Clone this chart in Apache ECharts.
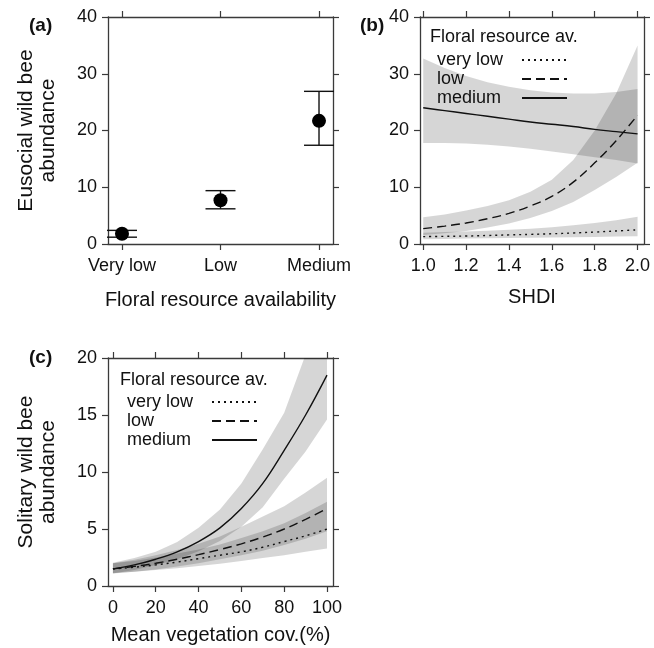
<!DOCTYPE html>
<html>
<head>
<meta charset="utf-8">
<script src="https://cdn.jsdelivr.net/npm/echarts@6/dist/echarts.min.js"></script>
<style>
  html, body { margin: 0; padding: 0; background: #fff; }
  #chart { width: 654px; height: 648px; }
</style>
</head>
<body>
<div id="chart"></div>
<script>
// ---------- Panel (a) ----------
const aCategories = ['Very low', 'Low', 'Medium'];
const aX = [1, 2, 3];
const aMean = [1.8, 7.7, 21.7];
const aLower = [1.2, 6.2, 17.4];
const aUpper = [2.4, 9.4, 26.9];
const aTicks = [1, 2, 3];

// ---------- Panel (b) ----------
const bX = [1.0, 1.1, 1.2, 1.3, 1.4, 1.5, 1.6, 1.7, 1.8, 1.9, 2.0];
const bVeryLow = [1.3, 1.35, 1.4, 1.5, 1.6, 1.7, 1.8, 1.95, 2.1, 2.3, 2.5];
const bVeryLowLo = [0.85, 0.9, 0.95, 1.0, 1.05, 1.1, 1.15, 1.2, 1.25, 1.3, 1.35];
const bVeryLowHi = [2.0, 2.1, 2.2, 2.35, 2.5, 2.7, 2.95, 3.3, 3.7, 4.2, 4.8];
const bLow = [2.7, 3.15, 3.7, 4.45, 5.4, 6.7, 8.4, 10.9, 14.3, 18.2, 22.7];
const bLowLo = [1.6, 1.9, 2.3, 2.9, 3.6, 4.6, 5.8, 7.4, 9.5, 11.8, 14.3];
const bLowHi = [4.7, 5.2, 5.9, 6.7, 7.7, 9.2, 11.3, 14.8, 20.0, 26.5, 35.0];
const bMedium = [24.0, 23.5, 23.0, 22.5, 22.0, 21.5, 21.1, 20.7, 20.2, 19.8, 19.4];
const bMediumLo = [17.8, 17.8, 17.7, 17.5, 17.2, 16.8, 16.3, 15.8, 15.3, 14.8, 14.2];
const bMediumHi = [32.7, 31.0, 29.6, 28.5, 27.7, 27.1, 26.7, 26.5, 26.5, 26.8, 27.3];
const bTicks = [1.0, 1.2, 1.4, 1.6, 1.8, 2.0];

// ---------- Panel (c) ----------
const cX = [0, 10, 20, 30, 40, 50, 60, 70, 80, 90, 100];
const cVeryLow = [1.5, 1.65, 1.85, 2.1, 2.4, 2.7, 3.0, 3.4, 3.9, 4.4, 5.0];
const cVeryLowLo = [1.15, 1.25, 1.4, 1.55, 1.75, 1.95, 2.2, 2.45, 2.7, 3.0, 3.3];
const cVeryLowHi = [2.0, 2.2, 2.5, 2.85, 3.2, 3.65, 4.2, 4.8, 5.5, 6.4, 7.4];
const cLow = [1.5, 1.72, 2.0, 2.35, 2.75, 3.2, 3.7, 4.3, 5.0, 5.85, 6.8];
const cLowLo = [1.1, 1.25, 1.45, 1.7, 2.0, 2.35, 2.7, 3.1, 3.6, 4.15, 4.8];
const cLowHi = [2.0, 2.3, 2.7, 3.15, 3.7, 4.35, 5.2, 6.1, 7.0, 8.2, 9.5];
const cMedium = [1.5, 1.85, 2.35, 3.0, 3.9, 5.1, 6.8, 9.0, 11.9, 15.0, 18.5];
const cMediumLo = [1.1, 1.4, 1.85, 2.35, 3.05, 3.95, 5.2, 6.9, 9.4, 11.8, 14.6];
const cMediumHi = [2.05, 2.45, 3.0, 3.85, 5.1, 6.7, 9.0, 12.0, 15.2, 20.3, 24.0];
const cTicks = [0, 20, 40, 60, 80, 100];

const levelNames = ['very low', 'low', 'medium'];

// ---------- styling ----------
const FONT = "'Liberation Sans', Arial, sans-serif";
const AX = '#3a3a3a';
const TXT = '#111';
const BAND = 'rgba(0,0,0,0.16)';
const LINE_TYPES = { 'very low': [2, 4], 'low': [9, 5], 'medium': 'solid' };

const chart = echarts.init(document.getElementById('chart'), null, { renderer: 'canvas' });

function xAxisPair(grid, min, max, ticks, fmt, name, nameGap) {
  const base = {
    gridIndex: grid, type: 'value', min: min, max: max,
    axisLine: { show: true, onZero: false, lineStyle: { color: AX, width: 1.3 } },
    axisTick: { show: true, inside: false, length: 6, customValues: ticks, lineStyle: { color: AX, width: 1.2 } },
    splitLine: { show: false }
  };
  return [
    Object.assign({}, base, {
      position: 'bottom',
      axisLabel: { show: true, customValues: ticks, formatter: fmt, margin: 13, fontSize: 18, color: TXT, fontFamily: FONT },
      name: name, nameLocation: 'middle', nameGap: nameGap,
      nameTextStyle: { fontSize: 20, color: TXT, fontFamily: FONT }
    }),
    Object.assign({}, base, { position: 'top', axisLabel: { show: false } })
  ];
}

function yAxisPair(grid, min, max, interval, name, nameGap) {
  const base = {
    gridIndex: grid, type: 'value', min: min, max: max, interval: interval,
    axisLine: { show: true, onZero: false, lineStyle: { color: AX, width: 1.3 } },
    axisTick: { show: true, inside: false, length: 6, lineStyle: { color: AX, width: 1.2 } },
    splitLine: { show: false }
  };
  const left = Object.assign({}, base, {
    position: 'left',
    axisLabel: { show: true, margin: 11, fontSize: 18, color: TXT, fontFamily: FONT }
  });
  if (name) {
    Object.assign(left, {
      name: name, nameLocation: 'middle', nameGap: nameGap, nameRotate: 90,
      nameTextStyle: { fontSize: 21, color: TXT, fontFamily: FONT, lineHeight: 22 }
    });
  }
  return [left, Object.assign({}, base, { position: 'right', axisLabel: { show: false } })];
}

const xAxes = [].concat(
  xAxisPair(0, 0.858, 3.142, aTicks, v => aCategories[aTicks.indexOf(Math.round(v))] || '', 'Floral resource availability', 46),
  xAxisPair(1, 0.985, 2.03, bTicks, v => v.toFixed(1), 'SHDI', 43),
  xAxisPair(2, -2.3, 102.8, cTicks, v => String(v), 'Mean vegetation cov.(%)', 39)
);
const yAxes = [].concat(
  yAxisPair(0, 0, 40, 10, 'Eusocial wild bee\nabundance', 49),
  yAxisPair(1, 0, 40, 10, null, 0),
  yAxisPair(2, 0, 20, 5, 'Solitary wild bee\nabundance', 49)
);

function bandSeries(axisPair, xs, lo, hi) {
  return {
    type: 'custom', xAxisIndex: axisPair, yAxisIndex: axisPair, clip: true, silent: true, z: 1,
    data: xs.map((x, i) => [x, lo[i], hi[i]]),
    encode: { x: 0, y: [1, 2] },
    renderItem: function (params, api) {
      if (params.dataIndex !== 0) return null;
      const pts = [];
      for (let i = 0; i < xs.length; i++) pts.push(api.coord([xs[i], hi[i]]));
      for (let i = xs.length - 1; i >= 0; i--) pts.push(api.coord([xs[i], lo[i]]));
      return { type: 'polygon', shape: { points: pts }, style: { fill: BAND, stroke: null } };
    }
  };
}

function lineSeries(axisPair, name, xs, ys) {
  return {
    type: 'line', name: name, xAxisIndex: axisPair, yAxisIndex: axisPair,
    data: xs.map((x, i) => [x, ys[i]]), smooth: 0.4, symbol: 'none', z: 3, clip: true,
    lineStyle: { color: '#111', width: 1.4, type: LINE_TYPES[name] },
    itemStyle: { color: '#111' }
  };
}

const series = [
  // panel a: error bars
  {
    type: 'custom', xAxisIndex: 0, yAxisIndex: 0, z: 2,
    data: aX.map((x, i) => [x, aLower[i], aUpper[i]]),
    encode: { x: 0, y: [1, 2] },
    renderItem: function (params, api) {
      const x = api.value(0);
      const top = api.coord([x, api.value(2)]);
      const bot = api.coord([x, api.value(1)]);
      const hw = 15;
      const st = { stroke: '#111', lineWidth: 1.4 };
      return {
        type: 'group', children: [
          { type: 'line', shape: { x1: top[0], y1: top[1], x2: bot[0], y2: bot[1] }, style: st },
          { type: 'line', shape: { x1: top[0] - hw, y1: top[1], x2: top[0] + hw, y2: top[1] }, style: st },
          { type: 'line', shape: { x1: bot[0] - hw, y1: bot[1], x2: bot[0] + hw, y2: bot[1] }, style: st }
        ]
      };
    }
  },
  {
    type: 'scatter', xAxisIndex: 0, yAxisIndex: 0, z: 3,
    data: aX.map((x, i) => [x, aMean[i]]), symbol: 'circle', symbolSize: 14,
    itemStyle: { color: '#000', opacity: 1 }
  },
  // panel b (axis indices 2 = bottom x / left y of grid 1)
  bandSeries(2, bX, bVeryLowLo, bVeryLowHi),
  bandSeries(2, bX, bLowLo, bLowHi),
  bandSeries(2, bX, bMediumLo, bMediumHi),
  lineSeries(2, 'very low', bX, bVeryLow),
  lineSeries(2, 'low', bX, bLow),
  lineSeries(2, 'medium', bX, bMedium),
  // panel c (axis indices 4 = bottom x / left y of grid 2)
  bandSeries(4, cX, cVeryLowLo, cVeryLowHi),
  bandSeries(4, cX, cLowLo, cLowHi),
  bandSeries(4, cX, cMediumLo, cMediumHi),
  lineSeries(4, 'very low', cX, cVeryLow),
  lineSeries(4, 'low', cX, cLow),
  lineSeries(4, 'medium', cX, cMedium)
];

function legendFor(left, top) {
  return {
    data: levelNames, orient: 'vertical', left: left, top: top, align: 'right',
    itemWidth: 45, itemHeight: 10, itemGap: 1, selectedMode: false,
    itemStyle: { opacity: 0 },
    formatter: n => '{t|' + n + '}',
    textStyle: {
      fontSize: 18, color: TXT, fontFamily: FONT,
      rich: { t: { width: 80, align: 'left', fontSize: 18, color: TXT, fontFamily: FONT } }
    }
  };
}

const option = {
  backgroundColor: '#fff',
  animation: false,
  textStyle: { fontFamily: FONT },
  grid: [
    { left: 108, top: 17, width: 225, height: 227 },
    { left: 420, top: 17, width: 224, height: 227 },
    { left: 108, top: 358, width: 225, height: 228 }
  ],
  title: [
    { text: '(a)', left: 24, top: 11, textStyle: { fontSize: 19, fontWeight: 'bold', color: TXT, fontFamily: FONT } },
    { text: '(b)', left: 355, top: 11, textStyle: { fontSize: 19, fontWeight: 'bold', color: TXT, fontFamily: FONT } },
    { text: '(c)', left: 24, top: 343, textStyle: { fontSize: 19, fontWeight: 'bold', color: TXT, fontFamily: FONT } },
    { text: 'Floral resource av.', left: 425, top: 23, textStyle: { fontSize: 18, fontWeight: 'normal', color: TXT, fontFamily: FONT } },
    { text: 'Floral resource av.', left: 115, top: 366, textStyle: { fontSize: 18, fontWeight: 'normal', color: TXT, fontFamily: FONT } }
  ],
  legend: [legendFor(432, 46), legendFor(122, 388)],
  xAxis: xAxes,
  yAxis: yAxes,
  series: series
};

chart.setOption(option);
</script>
</body>
</html>
